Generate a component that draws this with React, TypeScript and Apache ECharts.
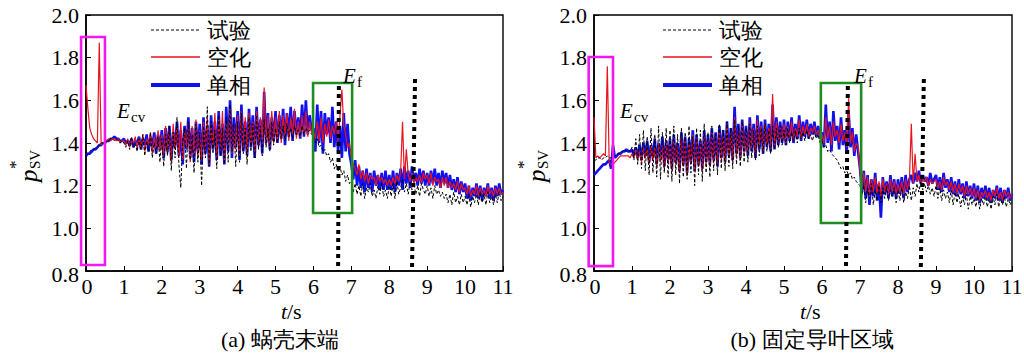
import React, { useEffect, useRef } from "react";
import * as echarts from "echarts";

// sampling interval of the recorded signals (s)
const T_STEP = 0.05;

const seriesNames = ["试验", "空化", "单相"];
const captions = ["(a) 蜗壳末端", "(b) 固定导叶区域"];
const xTicks = [0, 1, 2, 3, 4, 5, 6, 7, 8, 9, 10, 11];
const yTicks = [0.8, 1.0, 1.2, 1.4, 1.6, 1.8, 2.0];

// ---------- panel (a) 蜗壳末端 ----------
const expA = [
  1.34,1.35,1.36,1.37,1.37,1.38,1.38,1.39,1.40,1.40,1.40,1.41,1.41,1.42,1.42,1.41,1.42,1.41,1.40,1.41,
  1.40,1.38,1.41,1.37,1.43,1.38,1.40,1.36,1.42,1.37,1.44,1.34,1.41,1.36,1.45,1.33,1.40,1.35,1.43,1.31,
  1.42,1.29,1.44,1.34,1.48,1.27,1.45,1.33,1.52,1.30,1.19,1.40,1.47,1.28,1.50,1.32,1.44,1.26,1.49,1.31,
  1.45,1.20,1.48,1.33,1.57,1.29,1.50,1.35,1.46,1.28,1.53,1.34,1.47,1.30,1.52,1.31,1.58,1.36,1.49,1.29,
  1.50,1.31,1.54,1.35,1.47,1.30,1.52,1.36,1.49,1.33,1.53,1.37,1.48,1.34,1.51,1.38,1.47,1.36,1.50,1.39,
  1.47,1.40,1.50,1.42,1.48,1.41,1.49,1.43,1.47,1.42,1.48,1.44,1.46,1.43,1.48,1.44,1.47,1.45,1.46,1.44,
  1.43,1.40,1.42,1.38,1.39,1.36,1.37,1.34,1.35,1.31,1.33,1.28,1.30,1.27,1.29,1.25,1.27,1.22,1.25,1.21,
  1.22,1.17,1.21,1.16,1.20,1.15,1.21,1.14,1.19,1.17,1.21,1.15,1.18,1.14,1.20,1.16,1.21,1.15,1.18,1.14,
  1.20,1.15,1.21,1.14,1.22,1.16,1.19,1.23,1.17,1.21,1.16,1.22,1.18,1.21,1.16,1.20,1.15,1.21,1.18,1.16,
  1.20,1.15,1.19,1.14,1.20,1.16,1.18,1.15,1.17,1.14,1.16,1.12,1.16,1.11,1.17,1.12,1.15,1.11,1.16,1.12,
  1.15,1.11,1.16,1.10,1.15,1.12,1.16,1.11,1.17,1.12,1.16,1.11,1.17,1.12,1.15,1.11,1.16,1.12,1.17,1.13,
  1.15,
];
const cavA = [
  1.67,1.56,1.47,1.44,1.42,1.41,1.40,1.87,1.39,1.40,1.40,1.41,1.42,1.41,1.42,1.42,1.41,1.42,1.40,1.41,
  1.41,1.39,1.42,1.38,1.41,1.40,1.43,1.37,1.42,1.38,1.44,1.36,1.42,1.39,1.45,1.35,1.43,1.37,1.46,1.36,
  1.44,1.34,1.48,1.35,1.46,1.31,1.49,1.37,1.47,1.33,1.50,1.32,1.46,1.38,1.49,1.31,1.48,1.34,1.51,1.33,
  1.46,1.32,1.50,1.36,1.52,1.30,1.48,1.38,1.54,1.33,1.51,1.36,1.55,1.31,1.50,1.38,1.56,1.35,1.49,1.37,
  1.53,1.34,1.55,1.37,1.52,1.35,1.54,1.39,1.50,1.36,1.55,1.38,1.52,1.40,1.66,1.39,1.53,1.38,1.55,1.40,
  1.52,1.41,1.55,1.40,1.53,1.43,1.54,1.41,1.52,1.44,1.56,1.42,1.50,1.43,1.53,1.44,1.55,1.43,1.50,1.45,
  1.45,1.42,1.50,1.41,1.52,1.40,1.49,1.43,1.51,1.42,1.48,1.44,1.50,1.41,1.53,1.65,1.48,1.44,1.38,1.40,
  1.33,1.30,1.28,1.25,1.30,1.23,1.27,1.22,1.26,1.21,1.25,1.23,1.24,1.20,1.25,1.22,1.24,1.21,1.23,1.20,
  1.23,1.20,1.24,1.21,1.25,1.22,1.26,1.50,1.23,1.37,1.25,1.22,1.26,1.21,1.24,1.22,1.25,1.21,1.26,1.23,
  1.25,1.21,1.26,1.20,1.24,1.22,1.23,1.19,1.24,1.20,1.24,1.19,1.22,1.19,1.21,1.18,1.22,1.17,1.21,1.18,
  1.19,1.16,1.20,1.15,1.18,1.16,1.20,1.15,1.19,1.16,1.18,1.15,1.20,1.16,1.18,1.15,1.19,1.16,1.19,1.16,
  1.17,
];
const sglA = [
  1.34,1.35,1.35,1.36,1.37,1.37,1.38,1.39,1.39,1.40,1.40,1.41,1.41,1.42,1.42,1.43,1.42,1.42,1.41,1.41,
  1.42,1.40,1.41,1.39,1.42,1.38,1.41,1.40,1.43,1.37,1.42,1.39,1.44,1.36,1.43,1.38,1.45,1.35,1.44,1.37,
  1.46,1.33,1.47,1.36,1.48,1.32,1.45,1.38,1.50,1.34,1.46,1.30,1.48,1.37,1.52,1.33,1.47,1.31,1.50,1.36,
  1.49,1.30,1.52,1.35,1.48,1.29,1.53,1.37,1.50,1.32,1.55,1.34,1.49,1.30,1.57,1.36,1.60,1.33,1.52,1.38,
  1.55,1.32,1.58,1.36,1.50,1.34,1.56,1.38,1.53,1.33,1.57,1.39,1.51,1.35,1.64,1.40,1.54,1.37,1.52,1.41,
  1.55,1.40,1.53,1.42,1.56,1.39,1.54,1.43,1.57,1.41,1.55,1.44,1.52,1.42,1.58,1.43,1.60,1.44,1.53,1.46,
  1.47,1.36,1.58,1.40,1.55,1.35,1.54,1.44,1.52,1.40,1.57,1.38,1.50,1.36,1.48,1.33,1.54,1.36,1.49,1.35,
  1.30,1.23,1.32,1.20,1.29,1.19,1.27,1.17,1.28,1.19,1.26,1.17,1.27,1.20,1.25,1.18,1.26,1.18,1.27,1.18,
  1.25,1.18,1.27,1.17,1.26,1.20,1.28,1.18,1.29,1.21,1.27,1.19,1.29,1.22,1.26,1.20,1.28,1.21,1.27,1.20,
  1.26,1.20,1.27,1.21,1.28,1.20,1.26,1.19,1.27,1.21,1.26,1.19,1.25,1.18,1.23,1.17,1.24,1.16,1.22,1.17,
  1.21,1.14,1.20,1.13,1.19,1.15,1.21,1.14,1.20,1.13,1.19,1.15,1.21,1.14,1.19,1.13,1.20,1.15,1.21,1.16,
  1.18,
];

// ---------- panel (b) 固定导叶区域 ----------
const expB = [
  1.32,1.32,1.33,1.33,1.32,1.33,1.33,1.34,1.33,1.33,1.34,1.34,1.35,1.35,1.36,1.36,1.37,1.36,1.37,1.36,
  1.38,1.32,1.42,1.30,1.44,1.28,1.46,1.27,1.43,1.25,1.47,1.26,1.44,1.24,1.48,1.23,1.45,1.26,1.47,1.24,
  1.46,1.22,1.48,1.25,1.44,1.21,1.47,1.24,1.45,1.23,1.48,1.26,1.43,1.20,1.47,1.25,1.46,1.22,1.49,1.26,
  1.45,1.24,1.48,1.27,1.44,1.25,1.49,1.28,1.46,1.27,1.50,1.29,1.47,1.28,1.51,1.30,1.48,1.29,1.50,1.31,
  1.47,1.31,1.49,1.33,1.46,1.32,1.48,1.34,1.47,1.35,1.49,1.36,1.46,1.35,1.48,1.37,1.47,1.38,1.48,1.39,
  1.46,1.39,1.47,1.40,1.45,1.41,1.46,1.40,1.47,1.42,1.45,1.41,1.46,1.42,1.44,1.41,1.45,1.42,1.44,1.40,
  1.41,1.38,1.39,1.36,1.37,1.35,1.34,1.33,1.32,1.30,1.28,1.29,1.26,1.27,1.25,1.26,1.23,1.24,1.22,1.21,
  1.20,1.15,1.20,1.12,1.19,1.14,1.21,1.11,1.18,1.13,1.20,1.12,1.19,1.14,1.20,1.13,1.18,1.15,1.19,1.12,
  1.18,1.13,1.19,1.12,1.17,1.14,1.20,1.13,1.19,1.15,1.21,1.17,1.22,1.18,1.21,1.17,1.20,1.16,1.19,1.15,
  1.20,1.14,1.19,1.13,1.18,1.14,1.17,1.12,1.18,1.11,1.17,1.12,1.16,1.10,1.15,1.11,1.16,1.09,1.15,1.11,
  1.14,1.10,1.15,1.09,1.14,1.11,1.15,1.10,1.14,1.09,1.15,1.11,1.16,1.10,1.14,1.11,1.15,1.10,1.14,1.11,
  1.13,
];
const cavB = [
  1.52,1.33,1.34,1.33,1.34,1.35,1.34,1.76,1.31,1.30,1.30,1.31,1.32,1.33,1.34,1.34,1.34,1.34,1.34,1.33,
  1.35,1.33,1.37,1.32,1.36,1.31,1.38,1.33,1.37,1.30,1.39,1.32,1.38,1.29,1.40,1.31,1.39,1.28,1.41,1.30,
  1.40,1.27,1.42,1.30,1.39,1.26,1.43,1.29,1.41,1.25,1.40,1.30,1.44,1.27,1.42,1.29,1.40,1.27,1.44,1.30,
  1.42,1.29,1.45,1.31,1.43,1.30,1.46,1.32,1.44,1.30,1.48,1.33,1.45,1.31,1.52,1.34,1.47,1.32,1.49,1.35,
  1.46,1.35,1.50,1.37,1.47,1.34,1.51,1.38,1.48,1.36,1.49,1.39,1.47,1.37,1.63,1.38,1.50,1.40,1.48,1.41,
  1.49,1.40,1.48,1.42,1.50,1.41,1.47,1.43,1.51,1.42,1.48,1.44,1.49,1.43,1.47,1.45,1.48,1.44,1.46,1.43,
  1.44,1.40,1.52,1.42,1.48,1.39,1.50,1.43,1.46,1.40,1.49,1.41,1.45,1.38,1.61,1.40,1.45,1.36,1.40,1.38,
  1.27,1.19,1.26,1.17,1.24,1.15,1.23,1.17,1.24,1.16,1.22,1.15,1.23,1.17,1.21,1.16,1.23,1.17,1.22,1.16,
  1.21,1.17,1.22,1.16,1.23,1.18,1.22,1.49,1.21,1.35,1.22,1.25,1.21,1.23,1.22,1.24,1.20,1.23,1.21,1.22,
  1.23,1.19,1.22,1.18,1.24,1.20,1.22,1.18,1.22,1.17,1.21,1.16,1.21,1.17,1.20,1.15,1.20,1.16,1.19,1.15,
  1.19,1.14,1.18,1.13,1.17,1.15,1.18,1.14,1.17,1.13,1.18,1.15,1.19,1.14,1.17,1.13,1.18,1.15,1.17,1.14,
  1.16,
];
const sglB = [
  1.25,1.26,1.27,1.28,1.29,1.30,1.30,1.31,1.32,1.28,1.39,1.33,1.34,1.35,1.35,1.36,1.36,1.37,1.36,1.36,
  1.37,1.34,1.38,1.33,1.39,1.32,1.40,1.34,1.41,1.31,1.39,1.33,1.42,1.30,1.40,1.33,1.43,1.29,1.41,1.32,
  1.42,1.28,1.44,1.31,1.40,1.27,1.45,1.30,1.43,1.26,1.42,1.31,1.46,1.27,1.44,1.30,1.41,1.28,1.46,1.31,
  1.44,1.30,1.47,1.32,1.45,1.29,1.48,1.33,1.46,1.31,1.50,1.34,1.47,1.32,1.57,1.35,1.49,1.33,1.51,1.36,
  1.48,1.34,1.52,1.36,1.49,1.33,1.53,1.37,1.50,1.35,1.51,1.38,1.49,1.36,1.58,1.37,1.52,1.39,1.50,1.40,
  1.51,1.39,1.50,1.41,1.52,1.40,1.49,1.42,1.53,1.41,1.50,1.43,1.51,1.42,1.49,1.44,1.50,1.43,1.48,1.42,
  1.45,1.38,1.58,1.40,1.50,1.36,1.55,1.41,1.48,1.37,1.52,1.39,1.46,1.35,1.55,1.38,1.47,1.34,1.44,1.36,
  1.28,1.17,1.27,1.14,1.25,1.11,1.23,1.15,1.26,1.13,1.21,1.05,1.24,1.16,1.22,1.14,1.25,1.15,1.23,1.14,
  1.23,1.16,1.24,1.14,1.25,1.17,1.23,1.25,1.21,1.26,1.22,1.27,1.21,1.25,1.22,1.24,1.20,1.26,1.21,1.23,
  1.25,1.18,1.24,1.17,1.26,1.19,1.23,1.17,1.24,1.16,1.22,1.15,1.23,1.16,1.21,1.14,1.22,1.15,1.20,1.14,
  1.21,1.13,1.20,1.12,1.19,1.14,1.20,1.13,1.19,1.12,1.18,1.14,1.20,1.13,1.19,1.12,1.18,1.14,1.19,1.13,
  1.16,
];

// annotation boxes / markers, in data coordinates [t, p]
const cvBox = [
  [[-0.13, 1.897], [0.5, 0.828]],
  [[-0.14, 1.803], [0.5, 0.823]],
];
const fBox = [
  [[5.99, 1.681], [7.02, 1.072]],
  [[5.97, 1.681], [7.03, 1.025]],
];
const dotLines = [
  [[[6.67, 1.667], [6.65, 0.8]], [[8.68, 1.70], [8.6, 0.81]]],
  [[[6.68, 1.667], [6.63, 0.8]], [[8.68, 1.70], [8.6, 0.81]]],
];

const SERIF = "Liberation Serif";
const BLACK = "#000";
const RED = "#e8141c";
const BLUE = "#1010f0";
const MAGENTA = "#f01af0";
const GREEN = "#1e8c1e";

const toPairs = (arr: number[]) => arr.map((v, i) => [+(i * T_STEP).toFixed(2), v]);

const grids = [
  { left: 86, top: 15, width: 417, height: 256 },
  { left: 594, top: 15, width: 418, height: 256 },
];

export default function App() {
  const ref = useRef<HTMLDivElement>(null);
  useEffect(() => {
    if (!ref.current) return;
    const chart = echarts.init(ref.current, undefined, { renderer: "svg" });
    const panels = [
      { exp: expA, cav: cavA, sgl: sglA },
      { exp: expB, cav: cavB, sgl: sglB },
    ];
    const xAxes = grids.map((_, i) => ({
      type: "value",
      gridIndex: i,
      min: 0,
      max: 11,
      interval: 1,
      axisLine: { onZero: false, lineStyle: { color: BLACK, width: 1.6 } },
      axisTick: { inside: true, length: 5, lineStyle: { color: BLACK, width: 1 } },
      axisLabel: { show: false },
      splitLine: { show: false },
    }));
    const yAxes = grids.map((_, i) => ({
      type: "value",
      gridIndex: i,
      min: 0.8,
      max: 2.0,
      interval: 0.2,
      axisLine: { onZero: false, lineStyle: { color: BLACK, width: 1.6 } },
      axisTick: { inside: true, length: 5, lineStyle: { color: BLACK, width: 1 } },
      axisLabel: { show: false },
      splitLine: { show: false },
    }));
    const series: any[] = [];
    panels.forEach((p, i) => {
      series.push({
        name: seriesNames[2],
        type: "line",
        xAxisIndex: i,
        yAxisIndex: i,
        data: toPairs(p.sgl),
        showSymbol: false,
        lineStyle: { color: BLUE, width: 2.6 },
        z: 2,
      });
      series.push({
        name: seriesNames[1],
        type: "line",
        xAxisIndex: i,
        yAxisIndex: i,
        data: toPairs(p.cav),
        showSymbol: false,
        lineStyle: { color: RED, width: 1.2 },
        z: 3,
      });
      series.push({
        name: seriesNames[0],
        type: "line",
        xAxisIndex: i,
        yAxisIndex: i,
        data: toPairs(p.exp),
        showSymbol: false,
        lineStyle: { color: BLACK, width: 1, type: [3, 2] },
        z: 4,
      });
    });
    chart.setOption({
      animation: false,
      backgroundColor: "#fff",
      grid: grids.map((g) => ({
        ...g,
        show: true,
        borderColor: BLACK,
        borderWidth: 1.4,
        backgroundColor: "transparent",
      })),
      xAxis: xAxes,
      yAxis: yAxes,
      series,
    });

    const px = (g: number, pt: number[]) => chart.convertToPixel({ gridIndex: g } as any, pt) as number[];
    const graphic: any[] = [];
    const legendX = [151, 663];
    const rowsY = [30, 57, 85];
    const legendStyles = [
      { stroke: BLACK, lineWidth: 1, lineDash: [3, 2] },
      { stroke: RED, lineWidth: 1.5 },
      { stroke: BLUE, lineWidth: 4 },
    ];
    const txt = (text: string, x: number, y: number, size: number, opts: any = {}) => ({
      type: "text",
      z: 100,
      style: {
        text,
        x,
        y,
        fill: BLACK,
        fontSize: size,
        fontFamily: SERIF,
        fontStyle: opts.italic ? "italic" : "normal",
        textAlign: opts.align || "left",
        textVerticalAlign: opts.valign || "middle",
      },
    });
    [0, 1].forEach((g) => {
      // tick labels, placed through the axes' own scales
      yTicks.forEach((v) => {
        const p = px(g, [0, v]);
        graphic.push(txt(v.toFixed(1), p[0] - 7, p[1] + (v === 0.8 ? 3 : 0), 22, { align: "right" }));
      });
      xTicks.forEach((v) => {
        const p = px(g, [v, 0.8]);
        graphic.push(txt(String(v), p[0] + (v === 0 ? 1 : 0), p[1] + 4, 22, { align: "center", valign: "top" }));
      });
      [
        { box: cvBox[g], color: MAGENTA },
        { box: fBox[g], color: GREEN },
      ].forEach(({ box, color }) => {
        const a = px(g, box[0]);
        const b = px(g, box[1]);
        graphic.push({
          type: "rect",
          z: 100,
          shape: { x: a[0], y: a[1], width: b[0] - a[0], height: b[1] - a[1] },
          style: { fill: "none", stroke: color, lineWidth: 2.6 },
        });
      });
      dotLines[g].forEach((ln) => {
        const a = px(g, ln[0]);
        const b = px(g, ln[1]);
        graphic.push({
          type: "line",
          z: 100,
          shape: { x1: a[0], y1: a[1], x2: b[0], y2: b[1] },
          style: { stroke: BLACK, lineWidth: 4, lineDash: [4, 4] },
        });
      });
      seriesNames.forEach((nm, k) => {
        graphic.push({
          type: "line",
          z: 100,
          shape: { x1: legendX[g], y1: rowsY[k], x2: legendX[g] + 49, y2: rowsY[k] },
          style: legendStyles[k],
        });
        graphic.push(txt(nm, legendX[g] + 56, rowsY[k], 22));
      });
      const ecv = g === 0 ? [117, 111] : [620, 111];
      const ef = g === 0 ? [343, 76] : [854, 76];
      [
        { pos: ecv, sub: "cv" },
        { pos: ef, sub: "f" },
      ].forEach(({ pos, sub }) => {
        graphic.push(txt("E", pos[0], pos[1], 21, { italic: true }));
        graphic.push(txt(sub, pos[0] + 14, pos[1] + 6, 15));
      });
      const gx = g === 0 ? 30 : 538;
      graphic.push({
        type: "group",
        x: gx,
        y: 182,
        rotation: Math.PI / 2,
        z: 100,
        children: [
          txt("p", 0, -2, 25, { italic: true }),
          txt("*", 13, -15, 17),
          txt("SV", 13, 5, 15),
        ],
      });
      const tx = g === 0 ? 287 : 806;
      graphic.push(txt("t", tx, 311, 22, { italic: true, align: "right" }));
      graphic.push(txt("/s", tx, 311, 22));
      graphic.push(txt(captions[g], g === 0 ? 280 : 812, 339, 22, { align: "center" }));
    });
    chart.setOption({ graphic });
    return () => chart.dispose();
  }, []);
  return (
    <div
      ref={ref}
      style={{ position: "absolute", left: 0, top: 0, width: 1024, height: 356, background: "#fff" }}
    />
  );
}
